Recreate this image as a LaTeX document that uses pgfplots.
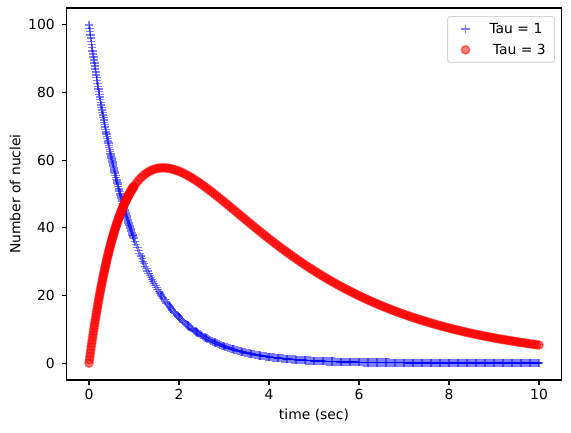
\documentclass[border=0pt]{standalone}
\usepackage{fontspec}
\setmainfont{DejaVu Sans}
\usepackage{pgfplots}
\usepackage{pgfplotstable}
\pgfplotsset{compat=1.18}

% t : time (sec), A : parent nuclei (tau = 1), B : daughter nuclei (tau = 3)
\pgfplotstableread{
t A B
0.00 100 0
0.01 99.005 0.993
0.02 98.020 1.973
0.03 97.045 2.939
0.04 96.079 3.894
0.05 95.123 4.837
0.06 94.176 5.766
0.07 93.239 6.682
0.08 92.312 7.585
0.09 91.393 8.477
0.10 90.484 9.356
0.11 89.583 10.224
0.12 88.692 11.080
0.13 87.810 11.923
0.14 86.936 12.756
0.15 86.071 13.577
0.16 85.214 14.388
0.17 84.367 15.185
0.18 83.527 15.973
0.19 82.696 16.750
0.20 81.873 17.516
0.21 81.058 18.272
0.22 80.252 19.016
0.23 79.453 19.750
0.24 78.663 20.472
0.25 77.880 21.187
0.26 77.105 21.890
0.27 76.338 22.583
0.28 75.578 23.267
0.29 74.826 23.940
0.30 74.082 24.603
0.31 73.345 25.256
0.32 72.615 25.901
0.33 71.892 26.538
0.34 71.177 27.162
0.35 70.469 27.778
0.36 69.768 28.386
0.37 69.073 28.985
0.38 68.386 29.575
0.39 67.706 30.155
0.40 67.032 30.728
0.41 66.365 31.291
0.42 65.705 31.846
0.43 65.051 32.393
0.44 64.404 32.931
0.45 63.763 33.461
0.46 63.128 33.984
0.47 62.500 34.498
0.48 61.878 35.004
0.49 61.263 35.501
0.50 60.653 35.992
0.51 60.050 36.474
0.52 59.452 36.950
0.53 58.861 37.417
0.54 58.275 37.877
0.55 57.695 38.330
0.56 57.121 38.775
0.57 56.553 39.213
0.58 55.990 39.646
0.59 55.433 40.069
0.60 54.881 40.487
0.61 54.335 40.897
0.62 53.794 41.302
0.63 53.259 41.698
0.64 52.729 42.088
0.65 52.205 42.471
0.66 51.685 42.849
0.67 51.171 43.220
0.68 50.662 43.584
0.69 50.158 43.942
0.70 49.659 44.294
0.71 49.164 44.642
0.72 48.675 44.981
0.73 48.191 45.314
0.74 47.711 45.643
0.75 47.237 45.964
0.76 46.767 46.280
0.77 46.302 46.591
0.78 45.841 46.896
0.79 45.384 47.197
0.80 44.933 47.489
0.81 44.486 47.778
0.82 44.043 48.061
0.83 43.605 48.338
0.84 43.171 48.610
0.85 42.741 48.878
0.86 42.316 49.140
0.87 41.895 49.396
0.88 41.478 49.649
0.89 41.066 49.894
0.90 40.657 50.136
0.91 40.252 50.374
0.92 39.852 50.606
0.93 39.455 50.833
0.94 39.062 51.057
0.95 38.674 51.275
0.96 38.289 51.488
0.97 37.908 51.698
0.98 37.531 51.902
0.99 37.158 52.101
1.00 36.788 52.298
1.05 34.994 53.212
1.10 33.287 54.025
1.15 31.664 54.742
1.20 30.119 55.369
1.25 28.650 55.911
1.30 27.253 56.372
1.35 25.924 56.758
1.40 24.660 57.074
1.45 23.457 57.323
1.50 22.313 57.510
1.55 21.225 57.638
1.60 20.190 57.712
1.65 19.205 57.735
1.70 18.268 57.710
1.75 17.377 57.640
1.80 16.530 57.527
1.85 15.724 57.375
1.90 14.957 57.187
1.95 14.227 56.966
2.00 13.534 56.713
2.05 12.873 56.430
2.10 12.246 56.120
2.15 11.648 55.784
2.20 11.080 55.426
2.25 10.540 55.045
2.30 10.026 54.645
2.35 9.537 54.227
2.40 9.072 53.792
2.45 8.629 53.342
2.50 8.209 52.877
2.55 7.808 52.400
2.60 7.427 51.912
2.65 7.065 51.413
2.70 6.721 50.905
2.75 6.393 50.389
2.80 6.081 49.864
2.85 5.784 49.334
2.90 5.502 48.800
2.95 5.234 48.258
3.00 4.979 47.714
3.05 4.736 47.166
3.10 4.505 46.616
3.15 4.285 46.063
3.20 4.076 45.509
3.25 3.877 44.954
3.30 3.688 44.399
3.35 3.508 43.842
3.40 3.337 43.288
3.45 3.175 42.734
3.50 3.020 42.180
3.55 2.873 41.629
3.60 2.732 41.080
3.65 2.599 40.533
3.70 2.472 39.989
3.75 2.352 39.447
3.80 2.237 38.909
3.85 2.128 38.374
3.90 2.024 37.843
3.95 1.926 37.316
4.00 1.832 36.793
4.05 1.742 36.273
4.10 1.657 35.758
4.15 1.577 35.247
4.20 1.500 34.741
4.25 1.426 34.239
4.30 1.357 33.742
4.35 1.291 33.250
4.40 1.228 32.762
4.45 1.168 32.280
4.50 1.111 31.804
4.55 1.057 31.332
4.60 1.005 30.865
4.65 0.956 30.404
4.70 0.910 29.947
4.75 0.865 29.496
4.80 0.823 29.051
4.85 0.783 28.610
4.90 0.745 28.175
4.95 0.708 27.746
5.00 0.674 27.320
5.05 0.641 26.902
5.10 0.610 26.487
5.15 0.580 26.079
5.20 0.552 25.676
5.25 0.525 25.279
5.30 0.499 24.886
5.35 0.475 24.499
5.40 0.452 24.117
5.45 0.430 23.741
5.50 0.409 23.369
5.55 0.389 23.003
5.60 0.370 22.641
5.65 0.352 22.284
5.70 0.335 21.933
5.75 0.318 21.588
5.80 0.303 21.246
5.85 0.288 20.909
5.90 0.274 20.578
5.95 0.261 20.251
6.00 0.248 19.928
6.05 0.236 19.610
6.10 0.224 19.298
6.15 0.213 18.990
6.20 0.203 18.687
6.25 0.193 18.387
6.30 0.184 18.093
6.35 0.175 17.803
6.40 0.166 17.517
6.45 0.158 17.235
6.50 0.150 16.959
6.55 0.143 16.686
6.60 0.136 16.417
6.65 0.129 16.152
6.70 0.123 15.891
6.75 0.117 15.634
6.80 0.111 15.382
6.85 0.106 15.133
6.90 0.101 14.888
6.95 0.096 14.646
7.00 0.091 14.409
7.05 0.087 14.176
7.10 0.083 13.945
7.15 0.079 13.719
7.20 0.075 13.496
7.25 0.071 13.276
7.30 0.068 13.061
7.35 0.064 12.848
7.40 0.061 12.638
7.45 0.058 12.433
7.50 0.055 12.230
7.55 0.053 12.030
7.60 0.050 11.834
7.65 0.048 11.641
7.70 0.045 11.451
7.75 0.043 11.263
7.80 0.041 11.079
7.85 0.039 10.898
7.90 0.037 10.720
7.95 0.035 10.545
8.00 0.034 10.372
8.05 0.032 10.202
8.10 0.030 10.035
8.15 0.029 9.871
8.20 0.027 9.709
8.25 0.026 9.550
8.30 0.025 9.393
8.35 0.024 9.239
8.40 0.022 9.087
8.45 0.021 8.938
8.50 0.020 8.792
8.55 0.019 8.647
8.60 0.018 8.505
8.65 0.017 8.366
8.70 0.017 8.228
8.75 0.016 8.093
8.80 0.015 7.959
8.85 0.014 7.829
8.90 0.014 7.700
8.95 0.013 7.573
9.00 0.012 7.449
9.05 0.012 7.327
9.10 0.011 7.206
9.15 0.011 7.088
9.20 0.010 6.971
9.25 0.010 6.856
9.30 0.009 6.743
9.35 0.009 6.633
9.40 0.008 6.523
9.45 0.008 6.416
9.50 0.007 6.311
9.55 0.007 6.207
9.60 0.007 6.105
9.65 0.006 6.004
9.70 0.006 5.905
9.75 0.006 5.808
9.80 0.006 5.712
9.85 0.005 5.618
9.90 0.005 5.525
9.95 0.005 5.434
10.00 0.005 5.344
}\decay

% parent nuclei at the intermediate times t = 1.025, 1.075, ..., 9.975
\pgfplotstableread{
t A
1.025 35.880
1.075 34.130
1.125 32.465
1.175 30.882
1.225 29.375
1.275 27.943
1.325 26.580
1.375 25.284
1.425 24.051
1.475 22.878
1.525 21.762
1.575 20.701
1.625 19.691
1.675 18.731
1.725 17.817
1.775 16.948
1.825 16.122
1.875 15.336
1.925 14.588
1.975 13.876
2.025 13.200
2.075 12.555
2.125 11.944
2.175 11.360
2.225 10.806
2.275 10.280
2.325 9.778
2.375 9.302
2.425 8.848
2.475 8.416
2.525 8.006
2.575 7.615
2.625 7.244
2.675 6.891
2.725 6.555
2.775 6.235
2.825 5.931
2.875 5.641
2.925 5.366
2.975 5.105
3.025 4.856
3.075 4.619
3.125 4.394
3.175 4.179
3.225 3.975
3.275 3.781
3.325 3.597
3.375 3.421
3.425 3.255
3.475 3.097
3.525 2.945
3.575 2.802
3.625 2.665
3.675 2.535
3.725 2.411
3.775 2.294
3.825 2.182
3.875 2.075
3.925 1.974
3.975 1.878
4.025 1.787
4.075 1.699
4.125 1.616
4.175 1.538
4.225 1.463
4.275 1.391
4.325 1.323
4.375 1.259
4.425 1.198
4.475 1.139
4.525 1.084
4.575 1.031
4.625 0.980
4.675 0.932
4.725 0.888
4.775 0.844
4.825 0.803
4.875 0.764
4.925 0.727
4.975 0.691
5.025 0.657
5.075 0.625
5.125 0.595
5.175 0.566
5.225 0.538
5.275 0.512
5.325 0.487
5.375 0.463
5.425 0.441
5.475 0.419
5.525 0.399
5.575 0.379
5.625 0.361
5.675 0.343
5.725 0.327
5.775 0.310
5.825 0.296
5.875 0.281
5.925 0.267
5.975 0.255
6.025 0.242
6.075 0.230
6.125 0.218
6.175 0.208
6.225 0.198
6.275 0.188
6.325 0.179
6.375 0.171
6.425 0.162
6.475 0.154
6.525 0.146
6.575 0.139
6.625 0.133
6.675 0.126
6.725 0.120
6.775 0.114
6.825 0.108
6.875 0.103
6.925 0.098
6.975 0.094
7.025 0.089
7.075 0.085
7.125 0.081
7.175 0.077
7.225 0.073
7.275 0.069
7.325 0.066
7.375 0.062
7.425 0.059
7.475 0.057
7.525 0.054
7.575 0.052
7.625 0.049
7.675 0.047
7.725 0.044
7.775 0.042
7.825 0.040
7.875 0.038
7.925 0.036
7.975 0.034
8.025 0.033
8.075 0.031
8.125 0.029
8.175 0.028
8.225 0.026
8.275 0.025
8.325 0.024
8.375 0.023
8.425 0.021
8.475 0.020
8.525 0.020
8.575 0.019
8.625 0.018
8.675 0.017
8.725 0.016
8.775 0.015
8.825 0.015
8.875 0.014
8.925 0.013
8.975 0.013
9.025 0.012
9.075 0.011
9.125 0.011
9.175 0.010
9.225 0.010
9.275 0.009
9.325 0.009
9.375 0.009
9.425 0.008
9.475 0.008
9.525 0.007
9.575 0.007
9.625 0.007
9.675 0.006
9.725 0.006
9.775 0.006
9.825 0.005
9.875 0.005
9.925 0.005
9.975 0.005
}\decaymid

\begin{document}
\fontsize{10.42}{12.5}\selectfont
\begin{tikzpicture}
\useasboundingbox (-49.875pt,-39pt) rectangle (378.375pt,285pt);
\begin{axis}[
  at={(0pt,0pt)}, anchor=south west,
  scale only axis, width=371.25pt, height=279pt,
  xmin=-0.5, xmax=10.5, ymin=-5, ymax=105,
  xtick={0,2,...,10}, ytick={0,20,...,100},
  xtick pos=left, ytick pos=left,
  tick align=outside, major tick length=3.65pt,
  axis line style={line width=0.83pt},
  every tick/.style={black, line width=0.83pt},
  /pgf/number format/assume math mode=true,
  tick label style={font=\fontsize{10.42}{12.5}\selectfont},
  xticklabel style={anchor=base, inner sep=0pt, yshift=-10.6pt},
  yticklabel style={anchor=east, inner sep=0pt, xshift=-4.95pt},
  label style={font=\fontsize{10.42}{12.5}\selectfont},
  xlabel={time (sec)},
  ylabel={Number of nuclei},
  xlabel style={at={([yshift=-29.25pt]axis description cs:0.5,0)}, anchor=base, inner sep=0pt},
  ylabel style={at={([xshift=-34.5pt]axis description cs:0,0.5)}, anchor=base, inner sep=0pt},
  legend cell align=left,
  legend image code/.code={
    \path[draw=none, fill=none] (0pt,-3pt) rectangle (17pt,3pt);
    \draw[#1, only marks]
      plot coordinates {(8.5pt,0pt)};
  },
  legend style={
    at={(axis description cs:1,1)}, anchor=north east,
    xshift=-4.9pt, yshift=-6pt,
    draw=black!20, line width=0.75pt, rounded corners=2pt,
    fill=white, fill opacity=0.8, text opacity=1, draw opacity=0.8,
    font=\fontsize{10.42}{12.5}\selectfont,
    inner xsep=5pt, inner ysep=4pt,
    nodes={inner sep=1.5pt, text height=7.6pt, text depth=0pt},
    column sep=8pt, row sep=5.15pt,
  },
]
\addplot[only marks, mark=+, color=blue, opacity=0.5,
  mark options={line width=1.04pt, mark size=3.125pt}]
  table[x=t, y=A] {\decay};
\addlegendentry{Tau = 1}
\addplot[forget plot, only marks, mark=+, color=blue, opacity=0.5,
  mark options={line width=1.04pt, mark size=3.125pt}]
  table[x=t, y=A] {\decaymid};
\addplot[only marks, mark=*, color=red, fill=red, opacity=0.5,
  mark options={line width=1.04pt, mark size=3.125pt}]
  table[x=t, y=B] {\decay};
\addlegendentry{\hspace{2.6pt}Tau = 3}
\end{axis}
\end{tikzpicture}
\end{document}
